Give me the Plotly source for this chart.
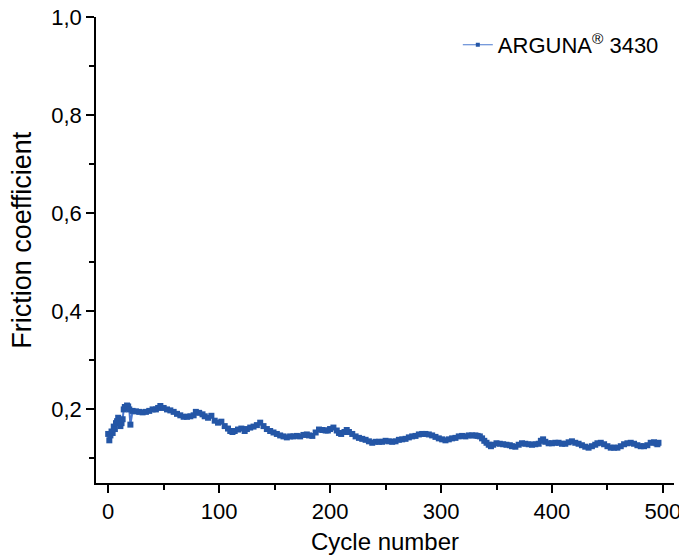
import plotly.graph_objects as go

# Data
cycles = [0, 1, 2, 3, 4, 5, 6, 7, 8, 9, 10, 11, 12, 13, 14, 15, 16, 17, 18, 19, 20,
          22, 25, 28, 31, 34, 37, 40, 43, 45, 47, 50, 53, 56, 59, 62, 65, 68, 71, 74,
          77, 79, 82, 85, 87, 90, 93, 96, 99, 102, 105, 108, 110, 112, 114, 117, 120,
          123, 125, 128, 131, 134, 137, 140, 143, 146, 149, 152, 155, 158, 161, 164,
          167, 170, 173, 176, 179, 181, 184, 187, 190, 193, 196, 198, 200, 203, 206,
          208, 210, 213, 215, 217, 220, 223, 226, 229, 232, 235, 238, 241, 244, 247,
          250, 253, 256, 259, 262, 265, 268, 271, 274, 277, 280, 283, 286, 289, 292,
          295, 298, 301, 304, 307, 310, 313, 316, 319, 322, 325, 328, 331, 333, 335,
          337, 339, 341, 343, 345, 347, 350, 353, 356, 359, 362, 364, 367, 370, 373,
          376, 379, 382, 385, 388, 390, 392, 394, 397, 400, 403, 406, 409, 412, 415,
          418, 421, 424, 427, 430, 433, 436, 439, 441, 444, 447, 450, 453, 456, 459,
          462, 465, 468, 471, 474, 477, 480, 483, 486, 489, 492, 494, 495, 496]
friction = [0.150, 0.137, 0.147, 0.155, 0.152, 0.165, 0.160, 0.172, 0.176, 0.183,
            0.178, 0.166, 0.172, 0.180, 0.200, 0.205, 0.203, 0.208, 0.206, 0.200,
            0.169, 0.197, 0.196, 0.195, 0.194, 0.195, 0.197, 0.200, 0.200, 0.203,
            0.207, 0.203, 0.200, 0.198, 0.195, 0.191, 0.188, 0.185, 0.185, 0.186,
            0.188, 0.195, 0.193, 0.190, 0.186, 0.183, 0.187, 0.177, 0.173, 0.175,
            0.166, 0.161, 0.156, 0.154, 0.156, 0.159, 0.161, 0.156, 0.160, 0.163,
            0.165, 0.168, 0.173, 0.166, 0.160, 0.156, 0.153, 0.150, 0.147, 0.145,
            0.143, 0.145, 0.145, 0.146, 0.145, 0.148, 0.149, 0.147, 0.146, 0.153,
            0.159, 0.158, 0.157, 0.157, 0.160, 0.163, 0.157, 0.152, 0.150, 0.154,
            0.158, 0.154, 0.150, 0.145, 0.142, 0.140, 0.138, 0.135, 0.132, 0.134,
            0.134, 0.134, 0.136, 0.135, 0.134, 0.135, 0.138, 0.139, 0.140, 0.143,
            0.145, 0.146, 0.149, 0.150, 0.150, 0.149, 0.147, 0.144, 0.141, 0.139,
            0.137, 0.139, 0.141, 0.142, 0.145, 0.146, 0.145, 0.147, 0.147, 0.147,
            0.146, 0.145, 0.141, 0.136, 0.132, 0.128, 0.125, 0.128, 0.131, 0.130,
            0.129, 0.128, 0.127, 0.125, 0.124, 0.128, 0.131, 0.130, 0.129, 0.128,
            0.129, 0.130, 0.136, 0.139, 0.134, 0.131, 0.131, 0.132, 0.132, 0.130,
            0.130, 0.133, 0.135, 0.132, 0.130, 0.127, 0.124, 0.122, 0.125, 0.128,
            0.131, 0.132, 0.129, 0.125, 0.122, 0.122, 0.122, 0.125, 0.129, 0.131,
            0.132, 0.130, 0.127, 0.125, 0.125, 0.127, 0.132, 0.133, 0.131, 0.129,
            0.132, 0.147]

series_name = "ARGUNA<sup>®</sup> 3430"
x_title = "Cycle number"
y_title = "Friction coefficient"
y_tickvals = [0.2, 0.4, 0.6, 0.8, 1.0]
y_ticktext = ["0,2", "0,4", "0,6", "0,8", "1,0"]
x_tickvals = [0, 100, 200, 300, 400, 500]

marker_color = "#2456a6"
line_color = "#4a78cf"
font_family = "Liberation Sans, Arial, sans-serif"

fig = go.Figure()
fig.add_trace(go.Scatter(
    x=cycles, y=friction, mode="lines+markers",
    line=dict(color=line_color, width=2),
    marker=dict(symbol="square", size=6, color=marker_color),
    showlegend=False,
))
fig.add_trace(go.Scatter(
    x=[None], y=[None], mode="lines+markers", name=series_name,
    line=dict(color=line_color, width=1),
    marker=dict(symbol="square", size=4, color=marker_color),
))

axis_common = dict(
    showline=True, linecolor="black", linewidth=1.5,
    ticks="outside", ticklen=8, tickwidth=1.5, tickcolor="black",
    showgrid=False, zeroline=False, mirror=False, automargin=False,
    ticklabeloverflow="allow",
    tickfont=dict(family=font_family, size=22, color="black"),
)

fig.update_layout(
    width=679, height=555,
    margin=dict(l=96, r=5, t=17, b=72, autoexpand=False),
    paper_bgcolor="white", plot_bgcolor="white",
    font=dict(family=font_family, color="black"),
    xaxis=dict(
        range=[-11, 510], tickvals=x_tickvals,
        minor=dict(tickvals=[50, 150, 250, 350, 450], ticks="outside", ticklen=5,
                   tickwidth=1.5, tickcolor="black"),
        title=dict(text=x_title, font=dict(family=font_family, size=24), standoff=12),
        **axis_common,
    ),
    yaxis=dict(
        range=[0.05, 1.0], tickvals=y_tickvals, ticktext=y_ticktext,
        minor=dict(tickvals=[0.1, 0.3, 0.5, 0.7, 0.9], ticks="outside", ticklen=5,
                   tickwidth=1.5, tickcolor="black"),
        **axis_common,
    ),
    legend=dict(
        x=0.626, y=0.94, xanchor="left", yanchor="middle",
        bgcolor="rgba(0,0,0,0)",
        font=dict(family=font_family, size=22, color="black"),
    ),
    annotations=[dict(
        text=y_title, textangle=-90, showarrow=False,
        xref="paper", yref="paper", x=-0.128, y=0.522,
        xanchor="center", yanchor="middle",
        font=dict(family=font_family, size=27, color="black"),
    )],
)

fig.write_html(
    "out.html",
    config={"displayModeBar": False},
    post_script="document.body.style.margin='0';document.body.style.overflow='hidden';",
)
